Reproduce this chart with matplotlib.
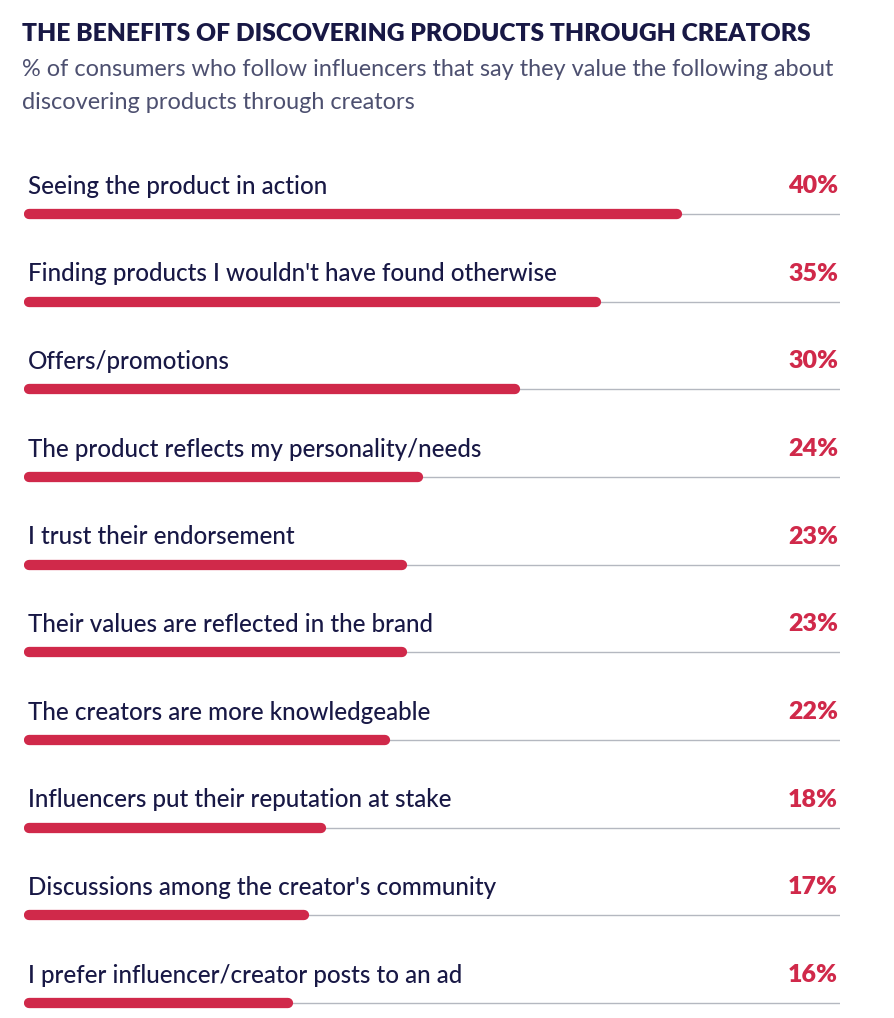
import matplotlib
matplotlib.use("Agg")
import matplotlib.pyplot as plt

categories = [
    "Seeing the product in action",
    "Finding products I wouldn't have found otherwise",
    "Offers/promotions",
    "The product reflects my personality/needs",
    "I trust their endorsement",
    "Their values are reflected in the brand",
    "The creators are more knowledgeable",
    "Influencers put their reputation at stake",
    "Discussions among the creator's community",
    "I prefer influencer/creator posts to an ad",
]
values = [40, 35, 30, 24, 23, 23, 22, 18, 17, 16]
value_labels = ["40%", "35%", "30%", "24%", "23%", "23%", "22%", "18%", "17%", "16%"]

title = "THE BENEFITS OF DISCOVERING PRODUCTS THROUGH CREATORS"
subtitle = ("% of consumers who follow influencers that say they value the following about\n"
            "discovering products through creators")

RED = "#D0294A"
NAVY = "#181845"
SUB = "#4d5070"
GRAY = "#b4b8c0"

plt.rcParams['font.family'] = ['Lato', 'DejaVu Sans']

W, H = 894, 1018
fig = plt.figure(figsize=(W / 100, H / 100), dpi=100)

# axes in pixel coords
ax_left, ax_right = 24, 840
ax_top, ax_bottom = 170, 1018
ax = fig.add_axes([ax_left / W, 1 - ax_bottom / H, (ax_right - ax_left) / W, (ax_bottom - ax_top) / H])
ax.axis('off')

px_per_unit = 16.2
x0_px = 29
row0_px, row_step = 214, 87.67
ax.set_xlim((ax_left - x0_px) / px_per_unit, (ax_right - x0_px) / px_per_unit)
ax.set_ylim((ax_bottom - row0_px) / row_step, (ax_top - row0_px) / row_step)

n = len(categories)
ys = list(range(n))
xmin, xmax = ax.get_xlim()
# gray baseline rules
ax.hlines(ys, xmin, xmax, color=GRAY, lw=1.0, zorder=1)
# red rounded bars
lc = ax.hlines(ys, 0, values, color=RED, lw=7.4, zorder=2)
lc.set_capstyle('round')

label_off = 28 / row_step
right_x = (838 - x0_px) / px_per_unit
for y, cat, vl in zip(ys, categories, value_labels):
    ax.text((28 - x0_px) / px_per_unit, y - label_off, cat, ha='left', va='center',
            fontsize=17.4, color=NAVY, fontweight='medium')
    ax.text(right_x, y - label_off, vl, ha='right', va='center',
            fontsize=18, color=RED, fontweight='heavy')

fig.text(22 / W, 1 - 34 / H, title, ha='left', va='center', fontsize=17.7,
         fontweight='heavy', color=NAVY)
fig.text(22 / W, 1 - 86 / H, subtitle, ha='left', va='center', fontsize=16.9,
         color=SUB, linespacing=1.75)

fig.savefig("out.png", dpi=100, facecolor='white')
